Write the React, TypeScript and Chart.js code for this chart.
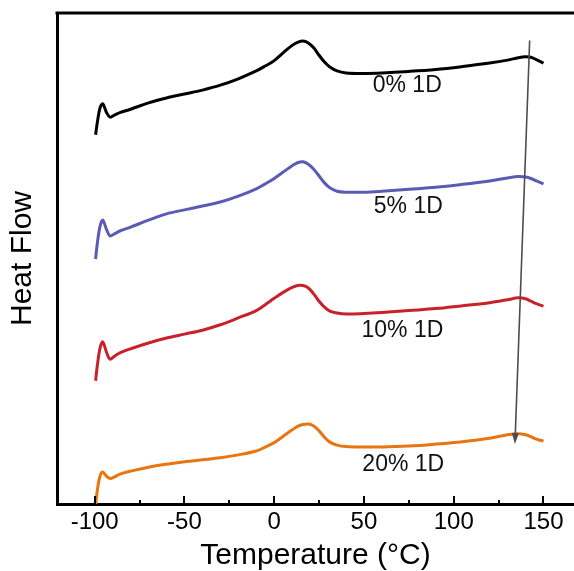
import { useEffect, useRef } from "react";
import { Chart, registerables } from "chart.js";

Chart.register(...registerables);

const temperatures = [-99.5, -98.5, -97, -95.5, -93.5, -91.5, -89, -86, -80, -70, -60, -50, -40, -30, -20, -10, -5, 0, 5, 10, 13, 16, 19, 22, 25, 28, 31, 35, 40, 50, 60, 75, 90, 105, 120, 130, 136, 140, 143, 146, 150];

const flow0 = [75.2, 77.8, 80.7, 81.5, 79.8, 78.8, 79.2, 79.7, 80.4, 81.7, 82.7, 83.5, 84.3, 85.3, 86.6, 88.2, 89.2, 90.3, 91.9, 93.4, 94.0, 94.3, 93.9, 92.9, 91.4, 90.0, 89.0, 88.2, 87.8, 87.7, 87.8, 88.1, 88.5, 89.1, 89.8, 90.4, 90.9, 91.1, 91.0, 90.5, 89.8];
const flow5 = [49.9, 53.2, 56.6, 57.8, 56.0, 54.6, 55.0, 55.6, 56.4, 57.8, 59.1, 59.9, 60.7, 61.5, 62.7, 64.2, 65.2, 66.3, 67.6, 68.9, 69.5, 69.7, 69.2, 68.2, 66.8, 65.4, 64.4, 63.7, 63.5, 63.5, 63.7, 64.1, 64.5, 65.1, 65.8, 66.4, 66.7, 66.6, 66.3, 65.8, 65.2];
const flow10 = [25.1, 28.3, 31.8, 33.0, 31.0, 29.5, 30.1, 30.8, 31.6, 32.8, 33.8, 34.6, 35.4, 36.5, 37.9, 39.4, 40.6, 41.9, 43.1, 44.1, 44.5, 44.5, 44.0, 42.8, 41.3, 40.1, 39.3, 38.9, 38.7, 38.8, 39.0, 39.4, 39.8, 40.4, 41.0, 41.6, 42.0, 41.8, 41.3, 40.8, 40.3];
const flow20 = [-0.4, 2.9, 5.7, 6.5, 5.7, 5.2, 5.5, 6.1, 6.7, 7.5, 8.1, 8.6, 9.0, 9.4, 10.0, 10.8, 11.6, 12.5, 13.8, 15.1, 15.8, 16.2, 16.3, 15.9, 14.9, 13.6, 12.6, 12.0, 11.7, 11.6, 11.6, 11.8, 12.2, 12.7, 13.4, 14.1, 14.3, 14.1, 13.7, 13.2, 12.8];

const seriesNames = ["0% 1D", "5% 1D", "10% 1D", "20% 1D"];
const seriesColors = ["#000000", "#5b5bb6", "#c9212b", "#e8750f"];
const labelT = [74.1, 74.7, 71.4, 71.9];
const labelFlow = [85.3, 60.5, 35.4, 8.1];

const majorTicks = [-100, -50, 0, 50, 100, 150];
const minorTicks = [-75, -25, 25, 75, 125];

const arrowStart = { t: 142.3, flow: 94.4 };
const arrowEnd = { t: 134.1, flow: 12.2 };

const FONT = '"Liberation Sans", Arial, sans-serif';

const decorations = {
  id: "decorations",
  afterDatasetsDraw(chart: any) {
    const { ctx, scales } = chart;
    const xs = scales.x;
    const ys = scales.y;
    ctx.save();
    ctx.fillStyle = "#111";
    ctx.font = `23px ${FONT}`;
    ctx.textAlign = "center";
    ctx.textBaseline = "middle";
    seriesNames.forEach((n, i) => {
      ctx.fillText(n, xs.getPixelForValue(labelT[i]), ys.getPixelForValue(labelFlow[i]));
    });
    const x1 = xs.getPixelForValue(arrowStart.t);
    const y1 = ys.getPixelForValue(arrowStart.flow);
    const x2 = xs.getPixelForValue(arrowEnd.t);
    const y2 = ys.getPixelForValue(arrowEnd.flow);
    const ang = Math.atan2(y2 - y1, x2 - x1);
    const headLen = 11;
    const headW = 3.5;
    ctx.strokeStyle = "#4d4d4d";
    ctx.fillStyle = "#4d4d4d";
    ctx.lineWidth = 1.6;
    ctx.beginPath();
    ctx.moveTo(x1, y1);
    ctx.lineTo(x2 - Math.cos(ang) * headLen * 0.8, y2 - Math.sin(ang) * headLen * 0.8);
    ctx.stroke();
    const bx = x2 - Math.cos(ang) * headLen;
    const by = y2 - Math.sin(ang) * headLen;
    ctx.beginPath();
    ctx.moveTo(x2, y2);
    ctx.lineTo(bx + Math.sin(ang) * headW, by - Math.cos(ang) * headW);
    ctx.lineTo(bx - Math.sin(ang) * headW, by + Math.cos(ang) * headW);
    ctx.closePath();
    ctx.fill();
    ctx.restore();
  },
  afterDraw(chart: any) {
    const { ctx, chartArea: a, scales } = chart;
    const xs = scales.x;
    ctx.save();
    ctx.strokeStyle = "#000";
    ctx.lineWidth = 3;
    ctx.beginPath();
    ctx.moveTo(a.left - 1.5, a.top);
    ctx.lineTo(a.right + 2, a.top);
    ctx.stroke();
    ctx.lineWidth = 2;
    majorTicks.forEach((v) => {
      const px = Math.round(xs.getPixelForValue(v));
      ctx.beginPath();
      ctx.moveTo(px, a.bottom);
      ctx.lineTo(px, a.bottom - 8);
      ctx.stroke();
    });
    minorTicks.forEach((v) => {
      const px = Math.round(xs.getPixelForValue(v));
      ctx.beginPath();
      ctx.moveTo(px, a.bottom);
      ctx.lineTo(px, a.bottom - 4);
      ctx.stroke();
    });
    ctx.restore();
  },
};

export default function App() {
  const ref = useRef<HTMLCanvasElement | null>(null);
  useEffect(() => {
    if (!ref.current) return;
    const series = [flow0, flow5, flow10, flow20];
    const chart = new Chart(ref.current, {
      type: "line",
      data: {
        datasets: series.map((s, i) => ({
          label: seriesNames[i],
          data: temperatures.map((t, j) => ({ x: t, y: s[j] })),
          borderColor: seriesColors[i],
          borderWidth: 3,
          pointRadius: 0,
          tension: 0.35,
          fill: false,
        })),
      },
      options: {
        animation: false,
        responsive: false,
        devicePixelRatio: 1,
        layout: { padding: { left: 0, right: 0, top: 13, bottom: 0 } },
        plugins: { legend: { display: false }, tooltip: { enabled: false } },
        scales: {
          x: {
            type: "linear",
            min: -121,
            max: 167,
            afterBuildTicks: (scale: any) => {
              scale.ticks = majorTicks.map((v) => ({ value: v }));
            },
            afterFit: (scale: any) => {
              scale.height = 67;
            },
            grid: { display: false, drawTicks: false },
            border: { display: true, color: "#000", width: 3 },
            ticks: {
              padding: 3.6,
              color: "#000",
              font: { family: FONT, size: 24 },
              maxRotation: 0,
              autoSkip: false,
            },
            title: {
              display: true,
              text: "Temperature (°C)",
              color: "#000",
              font: { family: FONT, size: 30 },
              padding: { top: 0, bottom: -3 },
            },
          },
          y: {
            type: "linear",
            min: 0,
            max: 100,
            afterFit: (scale: any) => {
              scale.width = 57;
            },
            grid: { display: false, drawTicks: false },
            border: { display: true, color: "#000", width: 3 },
            ticks: { display: false },
            title: {
              display: true,
              text: "Heat Flow",
              color: "#000",
              font: { family: FONT, size: 30 },
              padding: { top: 5, bottom: 0 },
            },
          },
        },
      },
      plugins: [decorations],
    });
    return () => chart.destroy();
  }, []);
  return (
    <div style={{ position: "fixed", left: 0, top: 0, width: 574, height: 571, overflow: "hidden", background: "#fff" }}>
      <canvas ref={ref} width={574} height={571} style={{ width: 574, height: 571, display: "block" }} />
    </div>
  );
}
